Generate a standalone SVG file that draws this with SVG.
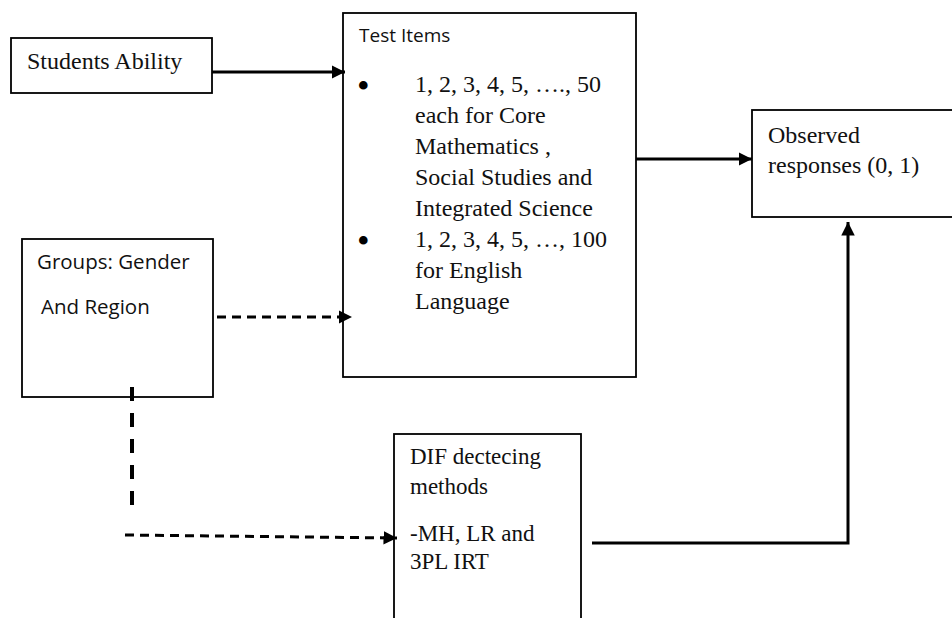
<svg xmlns="http://www.w3.org/2000/svg" width="952" height="618" viewBox="0 0 952 618">
<style>
.box{fill:#fff;stroke:#000;stroke-width:1.8}
.serif{font-family:"Liberation Serif","Times New Roman",serif;fill:#111}
.sans{font-family:"Open Sans","Liberation Sans",sans-serif;fill:#111}
.bul{font-family:"Liberation Serif","Times New Roman",serif;fill:#000;font-size:36px}
.con{stroke:#000;stroke-width:3;fill:none}
.dash{stroke:#000;stroke-width:3;fill:none;stroke-dasharray:9 6}
.dash2{stroke:#000;stroke-width:4;fill:none;stroke-dasharray:14 12}
</style>
<defs>
<marker id="ah" viewBox="0 0 10 10" refX="10" refY="5" markerWidth="4.5" markerHeight="4.5" orient="auto" markerUnits="strokeWidth">
<path d="M0,0 L10,5 L0,10 z" fill="#000"/>
</marker>
</defs>
<rect width="952" height="618" fill="#fff"/>
<g id="students-ability">
<rect class="box" x="11" y="38" width="201" height="55"/>
<text class="serif" x="27" y="69" font-size="24">Students Ability</text>
</g>
<g id="test-items">
<rect class="box" x="343" y="13" width="293" height="364"/>
<text class="sans" x="359" y="42" font-size="19">Test Items</text>
<text class="bul" x="357" y="98">•</text>
<text class="bul" x="357" y="253">•</text>
<g class="serif" font-size="24">
<text x="415" y="92">1, 2, 3, 4, 5, …., 50</text>
<text x="415" y="123">each for Core</text>
<text x="415" y="154">Mathematics ,</text>
<text x="415" y="185">Social Studies and</text>
<text x="415" y="216">Integrated Science</text>
<text x="415" y="247">1, 2, 3, 4, 5, …, 100</text>
<text x="415" y="278">for English</text>
<text x="415" y="309">Language</text>
</g>
</g>
<g id="observed">
<rect class="box" x="752" y="110" width="210" height="107"/>
<text class="serif" x="768" y="143" font-size="24">Observed</text>
<text class="serif" x="768" y="173" font-size="24">responses (0,  1)</text>
</g>
<g id="groups">
<rect class="box" x="22" y="239" width="191" height="158"/>
<text class="sans" x="37" y="269" font-size="20.5">Groups: Gender</text>
<text class="sans" x="41" y="314" font-size="20.5">And Region</text>
</g>
<g id="dif">
<rect class="box" x="394" y="434" width="187" height="200"/>
<text class="serif" x="410" y="464" font-size="23">DIF dectecing</text>
<text class="serif" x="410" y="494" font-size="23">methods</text>
<text class="serif" x="410" y="541" font-size="23">-MH, LR and</text>
<text class="serif" x="410" y="569" font-size="23">3PL IRT</text>
</g>
<g id="connectors">
<line class="con" x1="212" y1="72" x2="345" y2="72" marker-end="url(#ah)"/>
<line class="con" x1="636" y1="159" x2="752" y2="159" marker-end="url(#ah)"/>
<path class="con" d="M592,543 H848 V222" marker-end="url(#ah)"/>
<line class="dash" x1="217" y1="317" x2="352" y2="317" marker-end="url(#ah)"/>
<line class="dash2" x1="132" y1="387" x2="132" y2="516"/>
<line class="dash" x1="125" y1="535" x2="397" y2="538" marker-end="url(#ah)"/>
</g>
</svg>
